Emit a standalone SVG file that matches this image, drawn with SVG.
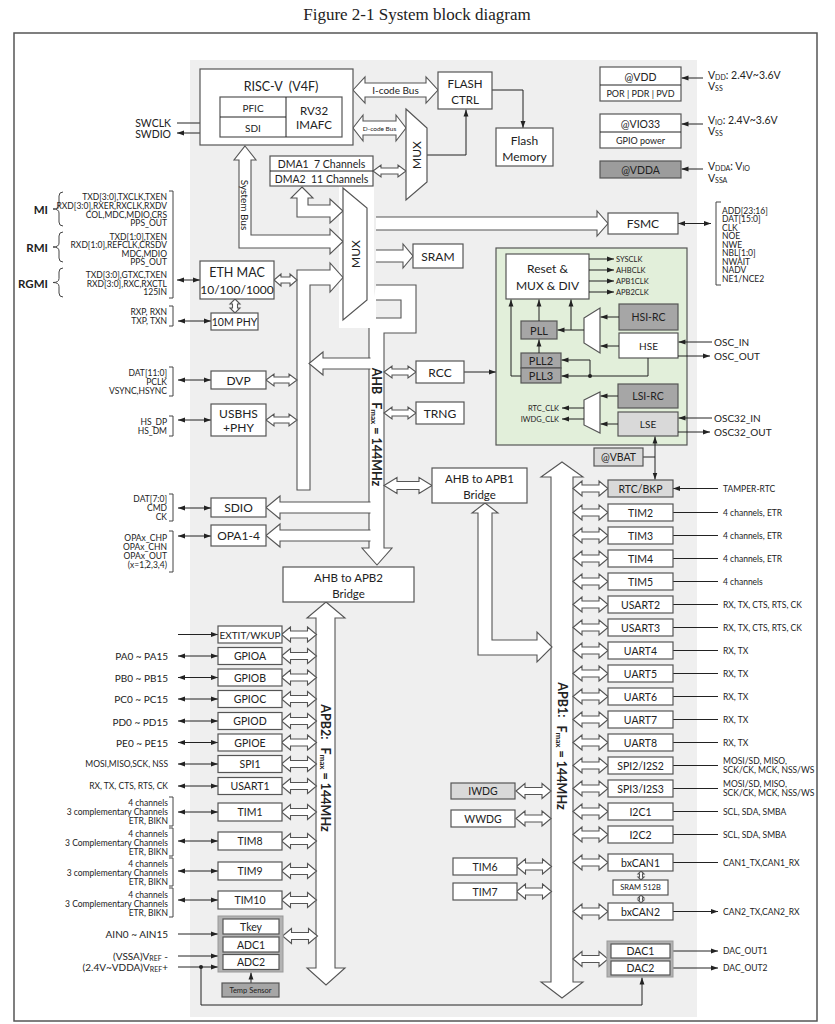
<svg xmlns="http://www.w3.org/2000/svg" width="835" height="1024" viewBox="0 0 835 1024">
<defs>
<style>
.bx{fill:#fff;stroke:#555;stroke-width:1.2}
.lg{fill:#d9d9d9;stroke:#555;stroke-width:1.2}
.dg{fill:#a6a6a6;stroke:#555;stroke-width:1.2}
.ba{fill:#fff;stroke:#555;stroke-width:1.1}
.ln{fill:none;stroke:#222;stroke-width:1}
.e{marker-end:url(#ah)}
.b{marker-start:url(#ah);marker-end:url(#ah)}
text{font-family:Lato,"Liberation Sans",sans-serif;fill:#222;dominant-baseline:central}
.c{text-anchor:middle}
.r{text-anchor:end}
.s{font-size:8.5px}
.m{font-size:10.5px}
.l{font-size:12px}
.bd{font-weight:bold}
.br{fill:none;stroke:#444;stroke-width:1}
</style>
<marker id="ah" viewBox="0 0 10 10" refX="10" refY="5" markerWidth="7" markerHeight="7" markerUnits="userSpaceOnUse" orient="auto-start-reverse"><path d="M0,1.5 L10,5 L0,8.5 Z" fill="#222"/></marker>
<path id="da" fill="#fff" stroke="#555" stroke-width="1.1" d="M0,0 L9,-7.5 V-3.5 H26 V-7.5 L35,0 L26,7.5 V3.5 H9 V7.5 Z"/>
</defs>
<rect width="835" height="1024" fill="#fff"/>
<text x="417" y="14" class="c" style="font-family:'Liberation Serif',serif;font-size:17px">Figure 2-1 System block diagram</text>
<rect x="14" y="33" width="803" height="988" fill="none" stroke="#555" stroke-width="1.5"/>
<rect x="190" y="60" width="507" height="957" fill="#efefef"/>
<rect x="339" y="186" width="35" height="142" fill="#fff"/>

<g id="ahb-bus">
<path class="ba" d="M376,285 H416 V333 H384 V548 H392 L377,565 L362,548 H369 V328"/>
<path d="M376,300 H401 V318 H376" fill="#efefef" stroke="#555" stroke-width="1.1"/>
<text class="c bd" font-size="12.5" transform="translate(376.5,427) rotate(90)">AHB<tspan dx="8">F</tspan><tspan font-size="8" dy="3">max</tspan><tspan dy="-3"> = 144MHz</tspan></text>
</g>
<g id="apb1-bus">
<path class="ba" d="M562,462 L583,477 H573 V982 H583 L562,998 L541,982 H551 V477 H541 Z"/>
<text class="c bd" font-size="12.5" transform="translate(562,746) rotate(90)">APB1:<tspan dx="8">F</tspan><tspan font-size="8" dy="3">max</tspan><tspan dy="-3"> = 144MHz</tspan></text>
</g>
<g id="apb2-bus">
<path class="ba" d="M326,602 L345,618 H335 V968 H345 L326,985 L307,968 H316 V618 H307 Z"/>
<text class="c bd" font-size="12.5" transform="translate(325.5,768) rotate(90)">APB2:<tspan dx="8">F</tspan><tspan font-size="8" dy="3">max</tspan><tspan dy="-3"> = 144MHz</tspan></text>
</g>
<g id="system-bus">
<path class="ba" d="M245,146 L256,160 H251 V235 H330 V229 L343,241.5 L330,254 V248 H239 V160 H234 Z"/>
<text class="c" font-size="10" transform="translate(245,205) rotate(90)">System Bus</text>
</g>

<g id="connectors">
<path class="ba" d="M302,187 L313,198 H308 V205 H330 V199 L343,211 L330,223 V217 H297 V198 H291 Z"/>
<path class="ba" d="M297,490 V270 H330 V263 L343,277.5 L330,292 V285 H310 V490 Z"/>
<path class="ba" d="M353,90 L365,77 V83 H426 V77 L438,90 L426,103 V97 H365 V103 Z"/>
<text class="c" font-size="10" x="395.5" y="90">I-code Bus</text>
<path class="ba" d="M353,128 L363,115 V121 H396 V115 L406,128 L396,141 V135 H363 V141 Z"/>
<text class="c" font-size="6.5" x="379.5" y="128">D-code Bus</text>
<path class="ba" d="M373,171 L381,165 V168 H398 V165 L406,171 L398,177 V174 H381 V177 Z"/>
<path class="ba" d="M376,217 H597 V211 L608,223.5 L597,236 V230 H376"/>
<path class="ba" d="M376,250 H403 V244 L413,256 L403,268 V262 H376"/>
<path class="ba" d="M274,280 L281,274 V277 H290 V274 L297,280 L290,286 V283 H281 V286 Z"/>
<path class="ba" d="M235,299 L240,304 H237.5 V308 H240 L235,313 L230,308 H232.5 V304 H230 Z"/>
<path class="ba" d="M266,380 L274,374 V377 H289 V374 L297,380 L289,386 V383 H274 V386 Z"/>
<path class="ba" d="M266,420 L274,414 V417 H289 V414 L297,420 L289,426 V423 H274 V426 Z"/>
<path class="ba" d="M370.5,358 H323 V352 L309,363.5 L323,375 V369 H370.5"/>
<path class="ba" d="M370.5,502 H280 V496 L266,507.5 L280,519 V513 H370.5"/>
<path class="ba" d="M370.5,530 H280 V524 L266,535.5 L280,547 V541 H370.5"/>
<path class="ba" d="M384,372 L392,366 V369 H408 V366 L416,372 L408,378 V375 H392 V378 Z"/>
<path class="ba" d="M384,413 L392,407 V410 H408 V407 L416,413 L408,419 V416 H392 V419 Z"/>
<path class="ba" d="M384,485.5 L397,477.5 V481.5 H419 V477.5 L432,485.5 L419,493.5 V489.5 H397 V493.5 Z"/>
<path class="ba" d="M485,503 L498,513 H492 V640 H537 V632 L552,647 L537,662 V655 H478 V513 H472 Z"/>
<use href="#da" x="573" y="488.5"/><use href="#da" x="573" y="512.5"/><use href="#da" x="573" y="535.5"/>
<use href="#da" x="573" y="558.5"/><use href="#da" x="573" y="581.5"/><use href="#da" x="573" y="604.5"/>
<use href="#da" x="573" y="627.5"/><use href="#da" x="573" y="650.5"/><use href="#da" x="573" y="673.5"/>
<use href="#da" x="573" y="696.5"/><use href="#da" x="573" y="719.5"/><use href="#da" x="573" y="742.5"/>
<use href="#da" x="573" y="765.5"/><use href="#da" x="573" y="788.5"/><use href="#da" x="573" y="811.5"/>
<use href="#da" x="573" y="834.5"/><use href="#da" x="573" y="862.5"/><use href="#da" x="573" y="911.5"/>
<use href="#da" x="573" y="959"/>
<use href="#da" x="516" y="791"/><use href="#da" x="516" y="818.5"/><use href="#da" x="516.5" y="866.5"/><use href="#da" x="516.5" y="891.5"/>
<use href="#da" x="281.5" y="634.5"/><use href="#da" x="281.5" y="656"/><use href="#da" x="281.5" y="677.5"/>
<use href="#da" x="281.5" y="699"/><use href="#da" x="281.5" y="721"/><use href="#da" x="281.5" y="742.5"/>
<use href="#da" x="281.5" y="764"/><use href="#da" x="281.5" y="786"/><use href="#da" x="281.5" y="812"/>
<use href="#da" x="281.5" y="841"/><use href="#da" x="281.5" y="871"/><use href="#da" x="281.5" y="900"/>
<use href="#da" x="282.5" y="936"/>
<path class="ba" d="M641,871 L644,874 H642.5 V877 H644 L641,880 L638,877 H639.5 V874 H638 Z"/>
<path class="ba" d="M641,895 L644,898 H642.5 V900 H644 L641,903 L638,900 H639.5 V898 H638 Z"/>
<path class="ln e" d="M177,123 H220"/>
<path class="ln b" d="M177,133 H220"/>
<path class="ln e" d="M492,90 H523 V128"/>
<path class="ln e" d="M427,155 H466 V109.5"/>
<path class="ln e" d="M703,78 H681.5"/>
<path class="ln e" d="M703,124 H681.5"/>
<path class="ln e" d="M703,169 H681.5"/>
<path class="ln b" d="M678,223.5 H711"/>
<path class="ln b" d="M177,280 H200"/>
<path class="ln b" d="M178,321 H211"/>
<path class="ln b" d="M178,380 H211"/>
<path class="ln b" d="M178,420 H211"/>
<path class="ln b" d="M178,508 H211"/>
<path class="ln b" d="M178,536 H211"/>
<path class="ln e" d="M464,372 H496"/>
<path class="ln b" d="M673,488.5 H718 M673,512.5 H718 M673,535.5 H718 M673,558.5 H718 M673,581.5 H718 M673,604.5 H718 M673,627.5 H718 M673,650.5 H718 M673,673.5 H718 M673,696.5 H718 M673,719.5 H718 M673,742.5 H718 M673,765.5 H718 M673,788.5 H718 M673,811.5 H718 M673,834.5 H718 M673,862.5 H718 M673,911.5 H718"/>
<path class="ln e" d="M671,951 H718"/>
<path class="ln e" d="M671,968 H718"/>
<path class="ln e" d="M178,634.5 H218"/>
<path class="ln b" d="M178,656 H218"/>
<path class="ln b" d="M178,677.5 H218"/>
<path class="ln b" d="M178,699 H218"/>
<path class="ln b" d="M178,721 H218"/>
<path class="ln b" d="M178,742.5 H218"/>
<path class="ln b" d="M178,764 H218"/>
<path class="ln b" d="M178,786 H218"/>
<path class="ln b" d="M178,812 H218"/>
<path class="ln b" d="M178,841 H218"/>
<path class="ln b" d="M178,871 H218"/>
<path class="ln b" d="M178,900 H218"/>
<path class="ln e" d="M178,934 H218"/>
<path class="ln e" d="M178,956 H218"/>
<path class="ln e" d="M178,967 H218"/>
<circle cx="201" cy="967" r="2" fill="#222"/>
<path class="ln e" d="M201,967 V1005 H642 V977.5"/>
<path class="ln e" d="M251,983 V972.5"/>
</g>

<g id="eth-signals">
<text class="bd r" font-size="11.5" x="48" y="209">MI</text>
<text class="bd r" font-size="11.5" x="48" y="247">RMI</text>
<text class="bd r" font-size="11.5" x="48" y="283">RGMI</text>
<path class="br" d="M63,192 Q59,192 59,196 V205 Q59,209 53,209 Q59,209 59,213 V222 Q59,226 63,226"/>
<path class="br" d="M63,232 Q59,232 59,236 V243 Q59,247 53,247 Q59,247 59,251 V258 Q59,262 63,262"/>
<path class="br" d="M63,268 Q59,268 59,272 V278.5 Q59,282.5 53,282.5 Q59,282.5 59,286.5 V293 Q59,297 63,297"/>
<text class="s r" x="167" y="197">TXD[3:0],TXCLK,TXEN</text>
<text class="s r" x="167" y="206">RXD[3:0],RXER,RXCLK,RXDV</text>
<text class="s r" x="167" y="214.5">COL,MDC,MDIO,CRS</text>
<text class="s r" x="167" y="223">PPS_OUT</text>
<text class="s r" x="167" y="237">TXD[1:0],TXEN</text>
<text class="s r" x="167" y="245">RXD[1:0],REFCLK,CRSDV</text>
<text class="s r" x="167" y="253.5">MDC,MDIO</text>
<text class="s r" x="167" y="262">PPS_OUT</text>
<text class="s r" x="167" y="275">TXD[3:0],GTXC,TXEN</text>
<text class="s r" x="167" y="284">RXD[3:0],RXC,RXCTL</text>
<text class="s r" x="167" y="292">125IN</text>
<path class="br" d="M169,191 H173 V298 H169"/>
<text class="s r" x="167" y="312">RXP, RXN</text>
<text class="s r" x="167" y="321">TXP, TXN</text>
<path class="br" d="M169,306 H173 V326 H169"/>
</g>
<g id="dvp-signals">
<text class="s r" x="167" y="373">DAT[11:0]</text>
<text class="s r" x="167" y="382">PCLK</text>
<text class="s r" x="167" y="391">VSYNC,HSYNC</text>
<path class="br" d="M169,367 H173 V396 H169"/>
<text class="s r" x="167" y="422">HS_DP</text>
<text class="s r" x="167" y="431">HS_DM</text>
<path class="br" d="M169,416 H173 V436 H169"/>
<text class="s r" x="167" y="499">DAT[7:0]</text>
<text class="s r" x="167" y="508">CMD</text>
<text class="s r" x="167" y="516.5">CK</text>
<path class="br" d="M169,494 H173 V521 H169"/>
<text class="s r" x="167" y="538">OPAx_CHP</text>
<text class="s r" x="167" y="547">OPAx_CHN</text>
<text class="s r" x="167" y="556">OPAx_OUT</text>
<text class="s r" x="167" y="565">(x=1,2,3,4)</text>
<path class="br" d="M169,531 H173 V572 H169"/>
</g>
<g id="apb2-signals">
<text class="r" font-size="10" x="168" y="656">PA0 ~ PA15</text>
<text class="r" font-size="10" x="168" y="678">PB0 ~ PB15</text>
<text class="r" font-size="10" x="168" y="699">PC0 ~ PC15</text>
<text class="r" font-size="10" x="168" y="721.5">PD0 ~ PD15</text>
<text class="r" font-size="10" x="168" y="742.5">PE0 ~ PE15</text>
<text class="s r" x="168" y="764">MOSI,MISO,SCK, NSS</text>
<text class="s r" x="168" y="786">RX, TX, CTS, RTS, CK</text>
<text class="s r" x="168" y="803">4 channels</text>
<text class="s r" x="168" y="812">3 complementary Channels</text>
<text class="s r" x="168" y="821">ETR, BIKN</text>
<path class="br" d="M169,797 H173 V826 H169"/>
<text class="s r" x="168" y="834">4 channels</text>
<text class="s r" x="168" y="843">3 Complementary Channels</text>
<text class="s r" x="168" y="852">ETR, BIKN</text>
<path class="br" d="M169,828 H173 V856 H169"/>
<text class="s r" x="168" y="864">4 channels</text>
<text class="s r" x="168" y="873">3 complementary Channels</text>
<text class="s r" x="168" y="882">ETR, BIKN</text>
<path class="br" d="M169,858 H173 V886 H169"/>
<text class="s r" x="168" y="895">4 channels</text>
<text class="s r" x="168" y="904">3 Complementary Channels</text>
<text class="s r" x="168" y="913">ETR, BIKN</text>
<path class="br" d="M169,888 H173 V917 H169"/>
<text class="r" font-size="10" x="168" y="934">AIN0 ~ AIN15</text>
<text class="r" font-size="10" x="168" y="956">(VSSA)V<tspan font-size="7" dy="2">REF</tspan><tspan dy="-2"> -</tspan></text>
<text class="r" font-size="10" x="168" y="967">(2.4V~VDDA)V<tspan font-size="7" dy="2">REF</tspan><tspan dy="-2">+</tspan></text>
</g>
<g id="apb1-signals">
<text class="s" x="723" y="488.5">TAMPER-RTC</text>
<text class="s" x="723" y="512.5">4 channels, ETR</text>
<text class="s" x="723" y="535.5">4 channels, ETR</text>
<text class="s" x="723" y="558.5">4 channels, ETR</text>
<text class="s" x="723" y="581.5">4 channels</text>
<text class="s" x="723" y="604.5">RX, TX, CTS, RTS, CK</text>
<text class="s" x="723" y="627.5">RX, TX, CTS, RTS, CK</text>
<text class="s" x="723" y="650.5">RX, TX</text>
<text class="s" x="723" y="673.5">RX, TX</text>
<text class="s" x="723" y="696.5">RX, TX</text>
<text class="s" x="723" y="719.5">RX, TX</text>
<text class="s" x="723" y="742.5">RX, TX</text>
<text class="s" x="723" y="761">MOSI/SD, MISO,</text>
<text class="s" x="723" y="770">SCK/CK, MCK, NSS/WS</text>
<text class="s" x="723" y="784">MOSI/SD, MISO,</text>
<text class="s" x="723" y="793">SCK/CK, MCK, NSS/WS</text>
<text class="s" x="723" y="811.5">SCL, SDA, SMBA</text>
<text class="s" x="723" y="834.5">SCL, SDA, SMBA</text>
<text class="s" x="723" y="862.5">CAN1_TX,CAN1_RX</text>
<text class="s" x="723" y="911.5">CAN2_TX,CAN2_RX</text>
<text class="s" x="723" y="951">DAC_OUT1</text>
<text class="s" x="723" y="968">DAC_OUT2</text>
</g>
<g id="fsmc-signals">
<path class="br" d="M721,202 H716 V285 H721"/>
<text class="s" x="722" y="210.5">ADD[23:16]</text>
<text class="s" x="722" y="219">DAT[15:0]</text>
<text class="s" x="722" y="227.5">CLK</text>
<text class="s" x="722" y="236">NOE</text>
<text class="s" x="722" y="244.5">NWE</text>
<text class="s" x="722" y="253">NBL[1:0]</text>
<text class="s" x="722" y="261.5">NWAIT</text>
<text class="s" x="722" y="270">NADV</text>
<text class="s" x="722" y="278.5">NE1/NCE2</text>
</g>
<g id="swd">
<text class="r" font-size="10.5" x="171" y="123">SWCLK</text>
<text class="r" font-size="10.5" x="171" y="134">SWDIO</text>
</g>
<g id="power-labels" font-size="10.5">
<text x="708" y="74.5">V<tspan font-size="7" dy="2">DD</tspan><tspan dy="-2">: 2.4V~3.6V</tspan></text>
<text x="708" y="86">V<tspan font-size="7" dy="2">SS</tspan></text>
<text x="708" y="119.5">V<tspan font-size="7" dy="2">IO</tspan><tspan dy="-2">: 2.4V~3.6V</tspan></text>
<text x="708" y="131">V<tspan font-size="7" dy="2">SS</tspan></text>
<text x="708" y="165.5">V<tspan font-size="7" dy="2">DDA</tspan><tspan dy="-2">: V</tspan><tspan font-size="7" dy="2">IO</tspan></text>
<text x="708" y="177.5">V<tspan font-size="7" dy="2">SSA</tspan></text>
</g>

<g id="risc-v">
<rect class="bx" x="200" y="69" width="153" height="76"/>
<text class="c" font-size="12.5" x="281" y="86" xml:space="preserve">RISC-V  (V4F)</text>
<rect class="bx" x="220" y="97" width="122" height="40"/>
<path class="ln" d="M286,97 V137 M220,117 H286" stroke="#555"/>
<text class="c" font-size="10" x="253" y="107.5">PFIC</text>
<text class="c" font-size="10" x="253" y="127.5">SDI</text>
<text class="c" font-size="11.5" x="314" y="110">RV32</text>
<text class="c" font-size="11.5" x="314" y="124">IMAFC</text>
</g>
<g id="flash-ctrl">
<rect class="bx" x="438" y="72" width="54" height="37"/>
<text class="c" font-size="11.5" x="465" y="83">FLASH</text>
<text class="c" font-size="11.5" x="465" y="99">CTRL</text>
</g>
<g id="flash-memory">
<rect class="bx" x="496" y="128" width="57" height="38"/>
<text class="c l" x="524.5" y="140">Flash</text>
<text class="c l" x="524.5" y="156">Memory</text>
</g>
<g id="mux-top">
<path class="bx" d="M406,109 L427,128 V182 L406,200 Z"/>
<text class="c l" transform="translate(416.5,155) rotate(-90)">MUX</text>
</g>
<g id="dma">
<rect class="bx" x="270" y="156" width="103" height="30"/>
<path class="ln" d="M270,171 H373" stroke="#555"/>
<text class="c" font-size="10.5" x="321.5" y="163.5" xml:space="preserve">DMA1  7 Channels</text>
<text class="c" font-size="10.5" x="321.5" y="178.5" xml:space="preserve">DMA2  11 Channels</text>
</g>
<g id="mux-main">
<path class="bx" d="M343,188 L367,208 V300 L343,320 Z"/>
<text class="c l" transform="translate(355,254) rotate(-90)">MUX</text>
</g>
<g id="power-vdd">
<rect class="bx" x="600" y="67" width="81" height="34"/>
<path class="ln" d="M600,85 H681" stroke="#555"/>
<text class="c m" x="640.5" y="76.5">@VDD</text>
<text class="c" font-size="9" x="640.5" y="93.5">POR | PDR | PVD</text>
</g>
<g id="power-vio33">
<rect class="bx" x="600" y="114" width="81" height="34"/>
<path class="ln" d="M600,132 H681" stroke="#555"/>
<text class="c m" x="640.5" y="123.5">@VIO33</text>
<text class="c" font-size="9" x="640.5" y="140.5">GPIO power</text>
</g>
<g id="power-vdda">
<rect x="600" y="161" width="81" height="17" fill="#9c9c9c" stroke="#555" stroke-width="1.2"/>
<text class="c m" x="640.5" y="169.5">@VDDA</text>
</g>
<g id="fsmc">
<rect class="bx" x="608" y="213" width="70" height="21"/>
<text class="c l" x="643" y="223.5">FSMC</text>
</g>
<g id="sram">
<rect class="bx" x="413" y="244" width="50" height="24"/>
<text class="c l" x="438" y="256">SRAM</text>
</g>
<g id="eth-mac">
<rect class="bx" x="200" y="261" width="74" height="38"/>
<text class="c" font-size="12.5" x="237" y="272.5">ETH MAC</text>
<text class="c" font-size="12" x="237" y="289">10/100/1000</text>
</g>
<g id="phy-10m">
<rect class="bx" x="211" y="313" width="47" height="17"/>
<text class="c" font-size="10.5" x="234.5" y="321.5">10M PHY</text>
</g>
<g id="dvp">
<rect class="bx" x="211" y="371" width="55" height="18"/>
<text class="c l" x="238.5" y="380">DVP</text>
</g>
<g id="usbhs">
<rect class="bx" x="211" y="404" width="55" height="32"/>
<text class="c l" x="238.5" y="413.5">USBHS</text>
<text class="c l" x="238.5" y="427.5">+PHY</text>
</g>
<g id="sdio">
<rect class="bx" x="211" y="498" width="55" height="19"/>
<text class="c l" x="238.5" y="507.5">SDIO</text>
</g>
<g id="opa">
<rect class="bx" x="211" y="525" width="55" height="21"/>
<text class="c l" x="238.5" y="535.5">OPA1-4</text>
</g>
<g id="rcc">
<rect class="bx" x="416" y="361" width="48" height="22"/>
<text class="c l" x="440" y="372">RCC</text>
</g>
<g id="trng">
<rect class="bx" x="416" y="402" width="48" height="22"/>
<text class="c l" x="440" y="413">TRNG</text>
</g>
<g id="ahb-apb1-bridge">
<rect class="bx" x="432" y="468" width="95" height="35"/>
<text class="c" font-size="11.5" x="479.5" y="478.5">AHB to APB1</text>
<text class="c" font-size="11.5" x="479.5" y="494.5">Bridge</text>
</g>
<g id="ahb-apb2-bridge">
<rect class="bx" x="283" y="567" width="131" height="35"/>
<text class="c" font-size="11.5" x="348.5" y="577.5">AHB to APB2</text>
<text class="c" font-size="11.5" x="348.5" y="593.5">Bridge</text>
</g>
<g id="clock-tree">
<rect x="496" y="248" width="191" height="197" fill="#e2efda" stroke="#555" stroke-width="1.2"/>
<rect class="bx" x="506" y="254" width="83" height="45"/>
<text class="c l" x="547.5" y="268.5">Reset &amp;</text>
<text class="c l" x="547.5" y="285">MUX &amp; DIV</text>
<text font-size="7.5" x="616" y="259">SYSCLK</text>
<text font-size="7.5" x="616" y="270">AHBCLK</text>
<text font-size="7.5" x="616" y="281">APB1CLK</text>
<text font-size="7.5" x="616" y="292">APB2CLK</text>
<rect class="dg" x="521" y="321" width="36" height="18"/>
<text class="c" font-size="11" x="539" y="330">PLL</text>
<rect class="dg" x="521" y="353" width="40" height="15"/>
<text class="c" font-size="11" x="541" y="360.5">PLL2</text>
<rect class="dg" x="521" y="368" width="40" height="15"/>
<text class="c" font-size="11" x="541" y="375.5">PLL3</text>
<rect class="dg" x="619" y="304" width="59" height="26"/>
<text class="c m" x="648.5" y="317">HSI-RC</text>
<rect class="bx" x="619" y="333" width="59" height="25"/>
<text class="c" font-size="10" x="648.5" y="345.5">HSE</text>
<path class="bx" d="M584,318 L600,308 V353 L584,343 Z"/>
<rect class="dg" x="618" y="384" width="60" height="24"/>
<text class="c m" x="648" y="396">LSI-RC</text>
<rect class="lg" x="618" y="412" width="60" height="24"/>
<text class="c" font-size="10" x="648" y="424">LSE</text>
<path class="bx" d="M584,400 L600,392 V433 L584,425 Z"/>
<text class="r" font-size="7.5" x="559" y="408">RTC_CLK</text>
<text class="r" font-size="7.5" x="559" y="419">IWDG_CLK</text>
<text font-size="10" x="714" y="342">OSC_IN</text>
<text font-size="10" x="714" y="356">OSC_OUT</text>
<text font-size="10" x="714" y="418">OSC32_IN</text>
<text font-size="10" x="714" y="432">OSC32_OUT</text>
</g>
<g id="clock-connectors">
<path class="ln e" d="M589,259 H614"/>
<path class="ln e" d="M589,270 H614"/>
<path class="ln e" d="M589,281 H614"/>
<path class="ln e" d="M589,292 H614"/>
<path class="ln e" d="M619,317 H600.5"/>
<path class="ln e" d="M619,346 H600.5"/>
<path class="ln e" d="M584,330 H557.5"/>
<path class="ln e" d="M571,330 V299.5"/>
<path class="ln e" d="M539,321 V299.5"/>
<path class="ln e" d="M539,353 V339.5"/>
<path class="ln e" d="M521,376 H511 V299.5"/>
<path class="ln e" d="M648,358 V376 H561.5"/>
<path class="ln e" d="M590,376 V360 H561.5"/>
<circle cx="590" cy="376" r="2" fill="#222"/>
<path class="ln e" d="M618,396 H600.5"/>
<path class="ln e" d="M618,424 H600.5"/>
<path class="ln e" d="M584,408 H562"/>
<path class="ln e" d="M584,419 H562"/>
<path class="ln e" d="M712,342 H678.5"/>
<path class="ln e" d="M678,356 H710"/>
<path class="ln e" d="M712,418 H678.5"/>
<path class="ln e" d="M678,432 H710"/>
<path class="ln b" d="M655,436.5 V479.5"/>
<path class="ln" d="M643,457 H655"/>
</g>
<g id="vbat">
<rect class="lg" x="594" y="448" width="49" height="18"/>
<text class="c m" x="618.5" y="457">@VBAT</text>
</g>
<g id="apb1-peripherals">
<rect class="lg" x="608" y="480" width="65" height="17"/><text class="c m" x="640.5" y="488.5">RTC/BKP</text>
<rect class="bx" x="608" y="504" width="65" height="17"/><text class="c m" x="640.5" y="512.5">TIM2</text>
<rect class="bx" x="608" y="527" width="65" height="17"/><text class="c m" x="640.5" y="535.5">TIM3</text>
<rect class="bx" x="608" y="550" width="65" height="17"/><text class="c m" x="640.5" y="558.5">TIM4</text>
<rect class="bx" x="608" y="573" width="65" height="17"/><text class="c m" x="640.5" y="581.5">TIM5</text>
<rect class="bx" x="608" y="596" width="65" height="17"/><text class="c m" x="640.5" y="604.5">USART2</text>
<rect class="bx" x="608" y="619" width="65" height="17"/><text class="c m" x="640.5" y="627.5">USART3</text>
<rect class="bx" x="608" y="642" width="65" height="17"/><text class="c m" x="640.5" y="650.5">UART4</text>
<rect class="bx" x="608" y="665" width="65" height="17"/><text class="c m" x="640.5" y="673.5">UART5</text>
<rect class="bx" x="608" y="688" width="65" height="17"/><text class="c m" x="640.5" y="696.5">UART6</text>
<rect class="bx" x="608" y="711" width="65" height="17"/><text class="c m" x="640.5" y="719.5">UART7</text>
<rect class="bx" x="608" y="734" width="65" height="17"/><text class="c m" x="640.5" y="742.5">UART8</text>
<rect class="bx" x="608" y="757" width="65" height="17"/><text class="c m" x="640.5" y="765.5">SPI2/I2S2</text>
<rect class="bx" x="608" y="780" width="65" height="17"/><text class="c m" x="640.5" y="788.5">SPI3/I2S3</text>
<rect class="bx" x="608" y="803" width="65" height="17"/><text class="c m" x="640.5" y="811.5">I2C1</text>
<rect class="bx" x="608" y="826" width="65" height="17"/><text class="c m" x="640.5" y="834.5">I2C2</text>
<rect class="bx" x="608" y="854" width="65" height="17"/><text class="c m" x="640.5" y="862.5">bxCAN1</text>
<rect class="bx" x="613" y="880" width="55" height="15"/><text class="c" font-size="7.5" x="640.5" y="887.5">SRAM 512B</text>
<rect class="bx" x="608" y="903" width="65" height="17"/><text class="c m" x="640.5" y="911.5">bxCAN2</text>
</g>
<g id="dac">
<rect x="607" y="941" width="66" height="36" fill="#b3b3b3" stroke="#999" stroke-width="1"/>
<rect class="bx" x="611" y="944" width="59" height="14"/><text class="c m" x="640.5" y="951">DAC1</text>
<rect class="bx" x="611" y="961" width="59" height="14"/><text class="c m" x="640.5" y="968">DAC2</text>
</g>
<g id="watchdogs">
<rect class="lg" x="451" y="783" width="64" height="16"/><text class="c m" x="483" y="791">IWDG</text>
<rect class="bx" x="451" y="810" width="64" height="17"/><text class="c m" x="483" y="818.5">WWDG</text>
</g>
<g id="basic-timers">
<rect class="bx" x="453" y="858" width="64" height="17"/><text class="c m" x="485" y="866.5">TIM6</text>
<rect class="bx" x="453" y="883" width="64" height="17"/><text class="c m" x="485" y="891.5">TIM7</text>
</g>
<g id="apb2-peripherals">
<rect class="bx" x="218" y="626" width="64" height="17"/><text class="c" font-size="10" x="250" y="634.5">EXTIT/WKUP</text>
<rect class="bx" x="218" y="647.5" width="64" height="17"/><text class="c m" x="250" y="656">GPIOA</text>
<rect class="bx" x="218" y="669" width="64" height="17"/><text class="c m" x="250" y="677.5">GPIOB</text>
<rect class="bx" x="218" y="690.5" width="64" height="17"/><text class="c m" x="250" y="699">GPIOC</text>
<rect class="bx" x="218" y="712.5" width="64" height="17"/><text class="c m" x="250" y="721">GPIOD</text>
<rect class="bx" x="218" y="734" width="64" height="17"/><text class="c m" x="250" y="742.5">GPIOE</text>
<rect class="bx" x="218" y="755.5" width="64" height="17"/><text class="c m" x="250" y="764">SPI1</text>
<rect class="bx" x="218" y="777.5" width="64" height="17"/><text class="c m" x="250" y="786">USART1</text>
<rect class="bx" x="218" y="803" width="64" height="18"/><text class="c m" x="250" y="812">TIM1</text>
<rect class="bx" x="218" y="832" width="64" height="18"/><text class="c m" x="250" y="841">TIM8</text>
<rect class="bx" x="218" y="862" width="64" height="18"/><text class="c m" x="250" y="871">TIM9</text>
<rect class="bx" x="218" y="891" width="64" height="18"/><text class="c m" x="250" y="900">TIM10</text>
</g>
<g id="adc">
<rect x="218" y="916" width="65" height="56" fill="#b3b3b3" stroke="#999" stroke-width="1"/>
<rect class="bx" x="223" y="919" width="56" height="15"/><text class="c m" x="251" y="926.5">Tkey</text>
<rect class="bx" x="223" y="937" width="56" height="15"/><text class="c m" x="251" y="944.5">ADC1</text>
<rect class="bx" x="223" y="954.5" width="56" height="15"/><text class="c m" x="251" y="962">ADC2</text>
</g>
<g id="temp-sensor">
<rect class="dg" x="222" y="983" width="57" height="14"/>
<text class="c" font-size="7.5" x="250.5" y="990">Temp Sensor</text>
</g>
</svg>
